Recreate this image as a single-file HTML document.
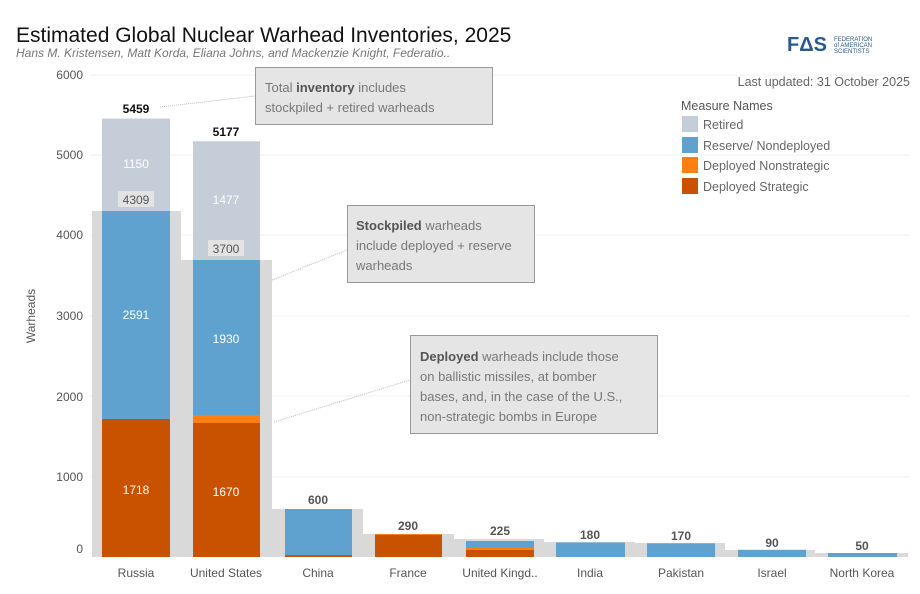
<!DOCTYPE html><html><head><meta charset="utf-8"><style>body{margin:0;background:#fff}svg{display:block;font-family:"Liberation Sans",sans-serif}</style></head><body>
<svg width="920" height="594" viewBox="0 0 920 594">
<text x="16" y="42" font-size="21" fill="#111">Estimated Global Nuclear Warhead Inventories, 2025</text>
<text x="16" y="57" font-size="12" font-style="italic" fill="#777">Hans M. Kristensen, Matt Korda, Eliana Johns, and Mackenzie Knight, Federatio..</text>
<text x="787" y="51" font-size="20" font-weight="bold" fill="#2a5a8a">FΔS</text>
<text x="834" y="41" font-size="6" fill="#2a5a8a">FEDERATION</text><text x="834" y="47" font-size="6" fill="#2a5a8a">of AMERICAN</text><text x="834" y="53" font-size="6" fill="#2a5a8a">SCIENTISTS</text>
<text x="910" y="86" font-size="12.5" fill="#666" text-anchor="end">Last updated: 31 October 2025</text>
<g stroke="#f0f0f0"><line x1="90" x2="910" y1="75" y2="75"/><line x1="90" x2="910" y1="155" y2="155"/><line x1="90" x2="910" y1="235" y2="235"/><line x1="90" x2="910" y1="316" y2="316"/><line x1="90" x2="910" y1="396" y2="396"/><line x1="90" x2="910" y1="477" y2="477"/></g>
<g font-size="12" fill="#555" text-anchor="end"><text x="83" y="79">6000</text><text x="83" y="159">5000</text><text x="83" y="239">4000</text><text x="83" y="320">3000</text><text x="83" y="401">2000</text><text x="83" y="481">1000</text><text x="83" y="553">0</text></g>
<text transform="translate(35,316) rotate(-90)" font-size="12" fill="#555" text-anchor="middle">Warheads</text>
<g fill="#d9d9d9"><rect x="92" y="211" width="89" height="346"/><rect x="181" y="260" width="91" height="297"/><rect x="272" y="509" width="91" height="48"/><rect x="363" y="534" width="91" height="23"/><rect x="454" y="539" width="90" height="18"/><rect x="544" y="542" width="91" height="15"/><rect x="635" y="543" width="90" height="14"/><rect x="725" y="550" width="90" height="7"/><rect x="815" y="553" width="93" height="4"/></g>
<rect x="102" y="118.6" width="68" height="92.4" fill="#c5ced8"/><rect x="102" y="211" width="68" height="208" fill="#5fa2cf"/><rect x="102" y="419" width="68" height="138" fill="#c95200"/>
<rect x="193" y="141.3" width="67" height="118.7" fill="#c5ced8"/><rect x="193" y="260" width="67" height="155" fill="#5fa2cf"/><rect x="193" y="415" width="67" height="8" fill="#fd7f11"/><rect x="193" y="423" width="67" height="134" fill="#c95200"/>
<rect x="285" y="509" width="67" height="46" fill="#5fa2cf"/><rect x="285" y="555" width="67" height="2" fill="#c95200"/>
<rect x="375" y="534" width="67" height="1" fill="#fd7f11"/><rect x="375" y="535" width="67" height="22" fill="#c95200"/>
<rect x="466" y="541" width="68" height="7" fill="#5fa2cf"/><rect x="466" y="548" width="68" height="2" fill="#fd7f11"/><rect x="466" y="550" width="68" height="7" fill="#c95200"/>
<rect x="556" y="542.5" width="69" height="14.5" fill="#5fa2cf"/><rect x="647" y="543.3" width="68" height="13.7" fill="#5fa2cf"/><rect x="738" y="549.8" width="68" height="7.2" fill="#5fa2cf"/><rect x="828" y="553" width="69" height="4" fill="#5fa2cf"/>
<g font-size="12" text-anchor="middle"><text x="136" y="113" font-weight="bold" fill="#111">5459</text><text x="226" y="136" font-weight="bold" fill="#111">5177</text>
<g fill="#fff"><text x="136" y="168">1150</text><text x="226" y="204">1477</text><text x="136" y="319">2591</text><text x="226" y="343">1930</text><text x="136" y="494">1718</text><text x="226" y="496">1670</text></g>
<rect x="118" y="191" width="36" height="16" fill="#e3e3e3"/><text x="136" y="204" fill="#555">4309</text>
<rect x="208" y="240" width="36" height="16" fill="#e3e3e3"/><text x="226" y="253" fill="#555">3700</text>
<g fill="#555" font-weight="bold"><text x="318" y="504">600</text><text x="408" y="530">290</text><text x="500" y="535">225</text><text x="590" y="539">180</text><text x="681" y="540">170</text><text x="772" y="547">90</text><text x="862" y="550">50</text></g>
<g fill="#555"><text x="136" y="577">Russia</text><text x="226" y="577">United States</text><text x="318" y="577">China</text><text x="408" y="577">France</text><text x="500" y="577">United Kingd..</text><text x="590" y="577">India</text><text x="681" y="577">Pakistan</text><text x="772" y="577">Israel</text><text x="862" y="577">North Korea</text></g></g>
<g stroke="#bbb" stroke-dasharray="1,1"><line x1="160" y1="107" x2="255" y2="96"/><line x1="272" y1="280" x2="347" y2="250"/><line x1="274" y1="422" x2="410" y2="380"/></g>
<g fill="#e5e5e5" stroke="#999"><rect x="255.5" y="67.5" width="237" height="57"/><rect x="347.5" y="205.5" width="187" height="77"/><rect x="410.5" y="335.5" width="247" height="98"/></g>
<g font-size="13" fill="#777"><text x="265" y="92">Total <tspan font-weight="bold" fill="#555">inventory</tspan> includes</text><text x="265" y="112">stockpiled + retired warheads</text>
<text x="356" y="230"><tspan font-weight="bold" fill="#555">Stockpiled</tspan> warheads</text><text x="356" y="250">include deployed + reserve</text><text x="356" y="270">warheads</text>
<text x="420" y="361"><tspan font-weight="bold" fill="#555">Deployed</tspan> warheads include those</text><text x="420" y="381">on ballistic missiles, at bomber</text><text x="420" y="401">bases, and, in the case of the U.S.,</text><text x="420" y="421">non-strategic bombs in Europe</text></g>
<text x="681" y="110" font-size="12.5" fill="#555">Measure Names</text>
<rect x="682" y="116" width="16" height="16" fill="#c5ced8"/><rect x="682" y="137" width="16" height="16" fill="#5fa2cf"/><rect x="682" y="157" width="16" height="16" fill="#fd7f11"/><rect x="682" y="178" width="16" height="16" fill="#c95200"/>
<g font-size="12.5" fill="#666"><text x="703" y="129">Retired</text><text x="703" y="150">Reserve/ Nondeployed</text><text x="703" y="170">Deployed Nonstrategic</text><text x="703" y="191">Deployed Strategic</text></g>
</svg></body></html>
